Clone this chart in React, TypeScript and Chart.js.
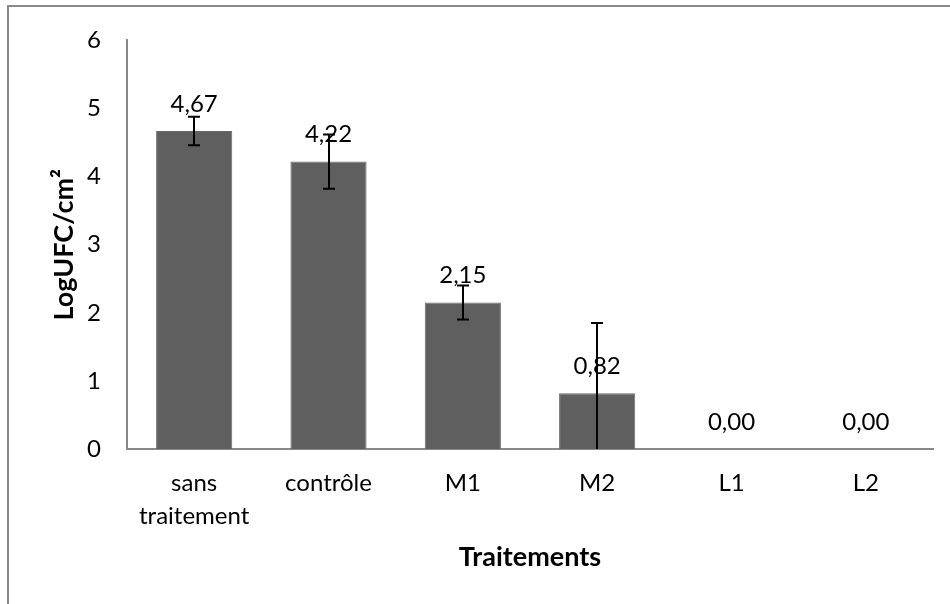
import React, { useEffect, useRef } from "react";
import { Chart, registerables } from "chart.js";

Chart.register(...registerables);

const categories: (string | string[])[] = [["sans", "traitement"], "contrôle", "M1", "M2", "L1", "L2"];
const values: number[] = [4.67, 4.22, 2.15, 0.82, 0, 0];
const errors: number[] = [0.21, 0.4, 0.25, 1.03, 0, 0];
const yTicks: number[] = [0, 1, 2, 3, 4, 5, 6];

const FONT = "Lato, 'Noto Sans', sans-serif";
const TICK_SIZE = 24;
const TITLE_SIZE = 27;

const framePlugin = {
  id: "frame",
  beforeDraw(chart: any) {
    const { ctx, width, height } = chart;
    ctx.save();
    ctx.fillStyle = "#ffffff";
    ctx.fillRect(0, 0, width, height);
    ctx.strokeStyle = "#898989";
    ctx.lineWidth = 2;
    ctx.beginPath();
    ctx.moveTo(8, height);
    ctx.lineTo(8, 6);
    ctx.lineTo(width, 6);
    ctx.stroke();
    ctx.restore();
  },
};

const labelsAndErrors = {
  id: "labelsAndErrors",
  afterDatasetsDraw(chart: any) {
    const { ctx, chartArea } = chart;
    const meta = chart.getDatasetMeta(0);
    const yScale = chart.scales.y;
    ctx.save();
    ctx.font = `${TICK_SIZE}px ${FONT}`;
    ctx.fillStyle = "#000000";
    ctx.textAlign = "center";
    ctx.textBaseline = "middle";
    meta.data.forEach((bar: any, i: number) => {
      const yv = yScale.getPixelForValue(values[i]);
      ctx.fillText(values[i].toFixed(2).replace(".", ","), bar.x, yv - 27);
    });
    ctx.beginPath();
    ctx.rect(chartArea.left, chartArea.top - 20, chartArea.right - chartArea.left, chartArea.bottom - chartArea.top + 20);
    ctx.clip();
    ctx.strokeStyle = "#000000";
    ctx.lineWidth = 2;
    meta.data.forEach((bar: any, i: number) => {
      if (!errors[i]) return;
      const yTop = yScale.getPixelForValue(values[i] + errors[i]);
      const yBot = yScale.getPixelForValue(values[i] - errors[i]);
      const x = Math.round(bar.x);
      ctx.beginPath();
      ctx.moveTo(x, yTop);
      ctx.lineTo(x, yBot);
      ctx.moveTo(x - 6, yTop);
      ctx.lineTo(x + 6, yTop);
      ctx.moveTo(x - 6, yBot);
      ctx.lineTo(x + 6, yBot);
      ctx.stroke();
    });
    ctx.restore();
  },
};

export default function App() {
  const ref = useRef<HTMLCanvasElement>(null);
  useEffect(() => {
    if (!ref.current) return;
    const chart = new Chart(ref.current, {
      type: "bar",
      data: {
        labels: categories as any,
        datasets: [
          {
            data: values,
            backgroundColor: "#5f5f5f",
            borderColor: "#6a6a6a",
            borderWidth: 1,
            categoryPercentage: 1,
            barPercentage: 0.567,
          },
        ],
      },
      options: {
        responsive: false,
        animation: false,
        events: [],
        layout: { padding: { left: 0, top: 36, right: 17, bottom: 0 } },
        plugins: { legend: { display: false }, tooltip: { enabled: false } },
        scales: {
          x: {
            grid: { display: false, drawTicks: false },
            border: { display: true, color: "#898989", width: 2 },
            ticks: {
              color: "#000000",
              font: { family: FONT, size: TICK_SIZE, lineHeight: 1.375 },
              padding: 17.5,
              maxRotation: 0,
              autoSkip: false,
            },
            title: {
              display: true,
              text: "Traitements",
              color: "#000000",
              font: { family: FONT, size: TITLE_SIZE, weight: "bold", lineHeight: 1.2 },
              padding: { top: 0, bottom: 31 },
            },
            afterFit(scale: any) {
              scale.height = 155;
            },
          },
          y: {
            min: 0,
            max: 6,
            afterBuildTicks(scale: any) {
              scale.ticks = yTicks.map((v) => ({ value: v }));
            },
            grid: { display: false, drawTicks: false },
            border: { display: true, color: "#898989", width: 2 },
            ticks: {
              color: "#000000",
              font: { family: FONT, size: TICK_SIZE },
              padding: 26,
            },
            title: {
              display: true,
              text: "LogUFC/cm²",
              color: "#000000",
              font: { family: FONT, size: TITLE_SIZE, weight: "bold", lineHeight: 1.2 },
              padding: { top: 48, bottom: 0 },
            },
            afterFit(scale: any) {
              scale.width = 127;
            },
          },
        },
      },
      plugins: [framePlugin, labelsAndErrors],
    });
    return () => chart.destroy();
  }, []);
  return (
    <div style={{ position: "absolute", left: 0, top: 0, width: 950, height: 604 }}>
      <canvas ref={ref} width={950} height={604} style={{ display: "block" }} />
    </div>
  );
}
